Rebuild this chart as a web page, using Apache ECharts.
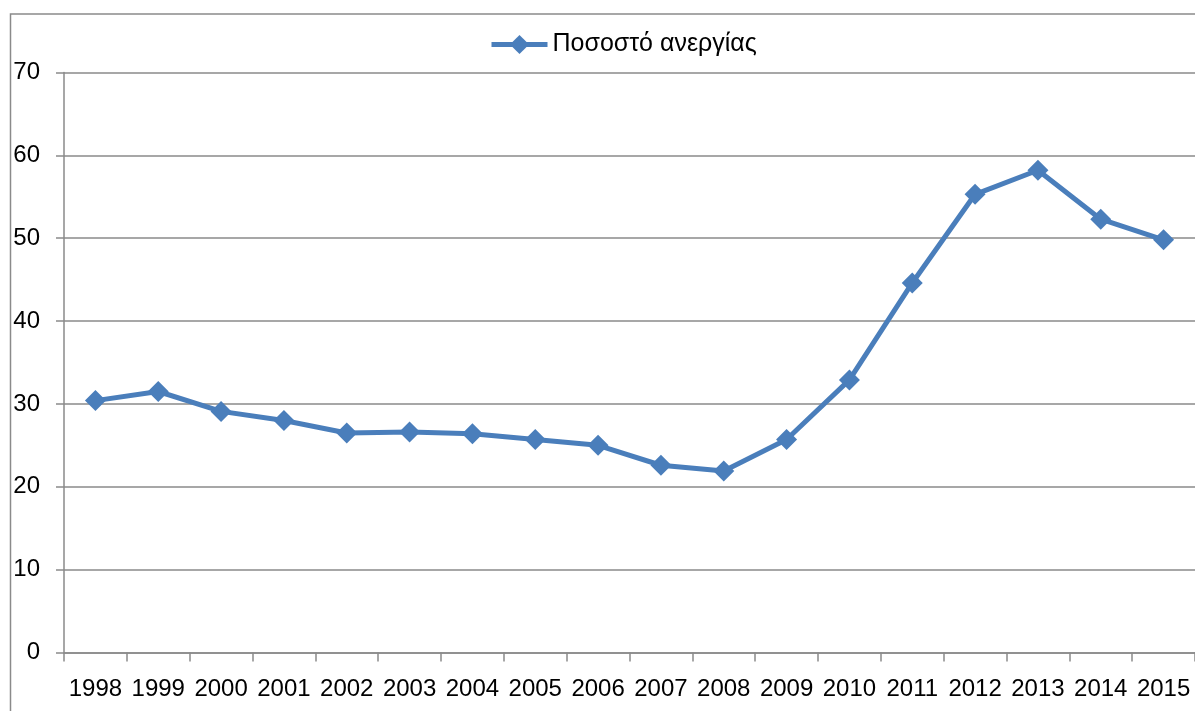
<!DOCTYPE html>
<html>
<head>
<meta charset="utf-8">
<script src="https://cdn.jsdelivr.net/npm/echarts@6/dist/echarts.min.js"></script>
<style>
  html, body { margin: 0; padding: 0; background: #ffffff; }
  #chart { width: 1195px; height: 711px; }
</style>
</head>
<body>
<div id="chart"></div>
<script>
// Unemployment rate by year
const years = ['1998', '1999', '2000', '2001', '2002', '2003', '2004', '2005', '2006',
               '2007', '2008', '2009', '2010', '2011', '2012', '2013', '2014', '2015'];
const unemployment = [30.4, 31.5, 29.1, 28.0, 26.5, 26.6, 26.4, 25.7, 25.0,
                      22.6, 21.9, 25.7, 32.9, 44.6, 55.3, 58.2, 52.3, 49.8];
const seriesName = 'Ποσοστό ανεργίας';
const yTicks = { min: 0, max: 70, interval: 10 };

const FONT = 'Liberation Sans';
const GRID_COLOR = '#8a8a8a';
const LINE_COLOR = '#4a7ebb';

const chart = echarts.init(document.getElementById('chart'), null, { renderer: 'canvas' });

chart.setOption({
  backgroundColor: '#ffffff',
  animation: false,
  textStyle: { fontFamily: FONT },
  graphic: [{
    type: 'rect',
    left: 8, top: 11.5,
    shape: { width: 1220, height: 740 },
    style: { fill: 'none', stroke: '#8a8a8a', lineWidth: 1.5 },
    silent: true
  }],
  legend: {
    top: 27,
    left: 484,
    itemWidth: 56,
    itemHeight: 24,
    itemGap: 4,
    lineStyle: { width: 5 },
    textStyle: { fontFamily: FONT, fontSize: 25, color: '#000000' },
    data: [seriesName]
  },
  grid: { left: 64, right: -3, top: 72.5, bottom: 58.5, containLabel: false },
  xAxis: {
    type: 'category',
    data: years,
    boundaryGap: true,
    axisLine: { show: true, lineStyle: { color: GRID_COLOR, width: 1.5 } },
    axisTick: { show: true, length: 9, alignWithLabel: false, lineStyle: { color: GRID_COLOR, width: 1.5 } },
    axisLabel: { fontFamily: FONT, fontSize: 24, color: '#000000', margin: 25, interval: 0 },
    splitLine: { show: false }
  },
  yAxis: {
    type: 'value',
    min: yTicks.min,
    max: yTicks.max,
    interval: yTicks.interval,
    axisLine: { show: true, lineStyle: { color: GRID_COLOR, width: 1.5 } },
    axisTick: { show: true, length: 8, lineStyle: { color: GRID_COLOR, width: 1.5 } },
    axisLabel: { fontFamily: FONT, fontSize: 24, color: '#000000', margin: 24 },
    splitLine: { show: true, lineStyle: { color: GRID_COLOR, width: 1.5 } }
  },
  series: [{
    name: seriesName,
    type: 'line',
    data: unemployment,
    symbol: 'diamond',
    symbolSize: 21,
    showAllSymbol: true,
    lineStyle: { color: LINE_COLOR, width: 5 },
    itemStyle: { color: LINE_COLOR },
    z: 3
  }]
});
</script>
</body>
</html>
